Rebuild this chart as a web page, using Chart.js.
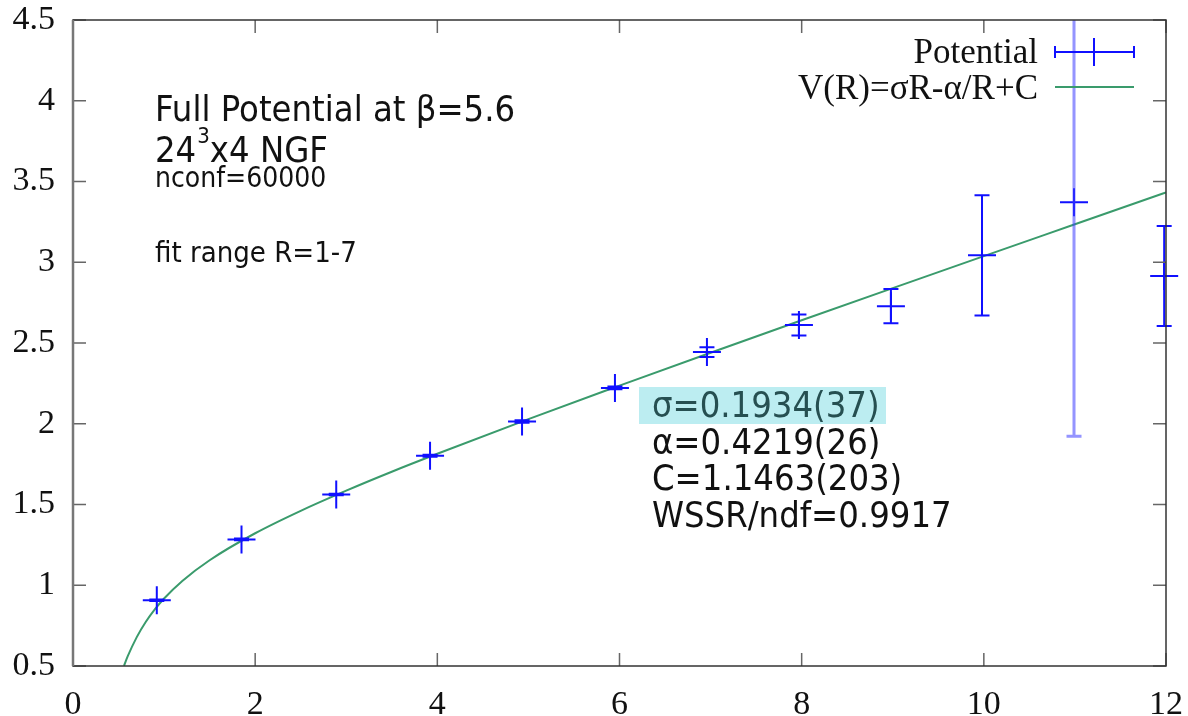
<!DOCTYPE html>
<html>
<head>
<meta charset="utf-8">
<script src="https://cdn.jsdelivr.net/npm/chart.js@4"></script>
<style>
  html, body { margin: 0; padding: 0; background: #fff; }
  canvas { display: block; }
</style>
</head>
<body>
<canvas id="potential-chart" width="1188" height="716"></canvas>
<script>
// Potentiel complet : points avec barres d'erreur + ajustement V(R)

const rValues = [0.92, 1.85, 2.89, 3.92, 4.93, 5.95, 6.96, 7.97, 8.98, 9.98, 10.99, 11.98];
const potential = [0.907, 1.284, 1.562, 1.802, 2.014, 2.222, 2.444, 2.611, 2.728, 3.043, 3.372, 2.915];
const potentialErr = [0.005, 0.005, 0.005, 0.006, 0.008, 0.008, 0.03, 0.065, 0.106, 0.372, 1.45, 0.31];

// courbe d'ajustement
const fitR = [0.56, 0.6, 0.7, 0.8, 0.9, 1.0, 1.2, 1.5, 2, 2.5, 3, 3.5, 4, 5, 6, 7, 8, 9, 10, 11, 12];
const fitV = [0.501, 0.559, 0.679, 0.774, 0.852, 0.918, 1.027, 1.155, 1.322, 1.461, 1.586, 1.703, 1.814,
              2.029, 2.236, 2.440, 2.641, 2.840, 3.038, 3.235, 3.432];

const xTicks = [0, 2, 4, 6, 8, 10, 12];
const yTicks = [0.5, 1, 1.5, 2, 2.5, 3, 3.5, 4, 4.5];

const titleLine = 'Full Potential at β=5.6';
const latticeParts = ['24', '3', 'x4 NGF'];
const nconfLine = 'nconf=60000';
const rangeLine = 'fit range R=1-7';
const fitLines = ['σ=0.1934(37)', 'α=0.4219(26)', 'C=1.1463(203)', 'WSSR/ndf=0.9917'];

const blue = '#1010ff';
const green = '#3a9b6c';
const serif = '"Liberation Serif", "Times New Roman", serif';
const sans = '"DejaVu Sans", Verdana, sans-serif';

function drawText(ctx, text, x, y, size, color, sx) {
    ctx.save();
    ctx.translate(x, y);
    ctx.scale(sx || 1, 1);
    ctx.font = size + 'px ' + sans;
    ctx.fillStyle = color;
    ctx.textBaseline = 'alphabetic';
    ctx.textAlign = 'left';
    ctx.fillText(text, 0, 0);
    const w = ctx.measureText(text).width * (sx || 1);
    ctx.restore();
    return w;
}

const frameAndTicks = {
    id: 'frameAndTicks',
    afterDatasetsDraw(chart) {
        const ctx = chart.ctx;
        const area = chart.chartArea;
        const xs = chart.scales.x;
        const ys = chart.scales.y;

        // barres d'erreur
        ctx.save();
        ctx.beginPath();
        ctx.rect(area.left - 20, area.top, area.right - area.left + 40, area.bottom - area.top);
        ctx.clip();
        for (let i = 0; i < rValues.length; i++) {
            const px = xs.getPixelForValue(rValues[i]);
            const top = ys.getPixelForValue(potential[i] + potentialErr[i]);
            const bot = ys.getPixelForValue(potential[i] - potentialErr[i]);
            ctx.strokeStyle = potentialErr[i] > 1 ? 'rgba(60,60,255,0.55)' : blue;
            ctx.lineWidth = potentialErr[i] > 1 ? 3 : 2;
            ctx.beginPath();
            ctx.moveTo(px, top);
            ctx.lineTo(px, bot);
            ctx.moveTo(px - 7.5, top);
            ctx.lineTo(px + 7.5, top);
            ctx.moveTo(px - 7.5, bot);
            ctx.lineTo(px + 7.5, bot);
            ctx.stroke();
        }
        ctx.restore();

        // graduations vers l'intérieur, sur les quatre côtés
        ctx.save();
        ctx.strokeStyle = '#666';
        ctx.lineWidth = 1.5;
        ctx.beginPath();
        xTicks.forEach(v => {
            const px = xs.getPixelForValue(v);
            ctx.moveTo(px, area.bottom);
            ctx.lineTo(px, area.bottom - 13);
            ctx.moveTo(px, area.top);
            ctx.lineTo(px, area.top + 13);
        });
        yTicks.forEach(v => {
            const py = ys.getPixelForValue(v);
            ctx.moveTo(area.left, py);
            ctx.lineTo(area.left + 13, py);
            ctx.moveTo(area.right, py);
            ctx.lineTo(area.right - 13, py);
        });
        ctx.stroke();

        // cadre
        ctx.strokeStyle = '#333';
        ctx.lineWidth = 1.5;
        ctx.strokeRect(area.left, area.top, area.right - area.left, area.bottom - area.top);
        ctx.strokeStyle = '#777';
        ctx.lineWidth = 2.5;
        ctx.beginPath();
        ctx.moveTo(area.left, area.top);
        ctx.lineTo(area.left, area.bottom);
        ctx.stroke();
        ctx.restore();
    },
    afterDraw(chart) {
        const ctx = chart.ctx;

        // légende façon gnuplot
        const labels = chart.data.datasets.map(d => d.label);
        ctx.save();
        ctx.font = '35px ' + serif;
        ctx.fillStyle = '#111';
        ctx.textAlign = 'right';
        ctx.textBaseline = 'alphabetic';
        ctx.fillText(labels[0], 1038, 63);
        ctx.fillText(labels[1], 1038, 99);

        ctx.strokeStyle = blue;
        ctx.lineWidth = 2;
        ctx.beginPath();
        ctx.moveTo(1055, 52);
        ctx.lineTo(1134, 52);
        ctx.moveTo(1055, 46);
        ctx.lineTo(1055, 58);
        ctx.moveTo(1134, 46);
        ctx.lineTo(1134, 58);
        ctx.moveTo(1094, 38);
        ctx.lineTo(1094, 66);
        ctx.stroke();

        ctx.strokeStyle = green;
        ctx.beginPath();
        ctx.moveTo(1055, 87);
        ctx.lineTo(1134, 87);
        ctx.stroke();
        ctx.restore();

        // annotations
        drawText(ctx, titleLine, 155, 121, 36, '#111', 0.9);
        let x = 155;
        x += drawText(ctx, latticeParts[0], x, 162, 36, '#111', 0.9);
        x += drawText(ctx, latticeParts[1], x + 1, 143, 22, '#111', 0.9) + 1;
        drawText(ctx, latticeParts[2], x, 162, 36, '#111', 0.9);
        drawText(ctx, nconfLine, 155, 187, 28, '#111', 0.9);
        drawText(ctx, rangeLine, 155, 262, 29, '#111', 0.9);

        ctx.save();
        ctx.fillStyle = '#bcedf1';
        ctx.fillRect(639, 387, 247, 37);
        ctx.restore();
        drawText(ctx, fitLines[0], 652, 417, 36, '#264f51', 0.9);
        drawText(ctx, fitLines[1], 652, 454, 36, '#111', 0.9);
        drawText(ctx, fitLines[2], 652, 490, 36, '#111', 0.9);
        drawText(ctx, fitLines[3], 652, 527, 36, '#111', 0.9);
    }
};

document.addEventListener('DOMContentLoaded', function() {
    const canvas = document.getElementById('potential-chart');

    const pointData = rValues.map((r, i) => ({ x: r, y: potential[i] }));
    const fitData = fitR.map((r, i) => ({ x: r, y: fitV[i] }));

    new Chart(canvas, {
        type: 'scatter',
        data: {
            datasets: [
                {
                    label: 'Potential',
                    data: pointData,
                    pointStyle: 'cross',
                    pointRadius: 14,
                    pointHoverRadius: 14,
                    borderColor: blue,
                    backgroundColor: blue,
                    borderWidth: 2,
                    clip: false,
                    order: 0
                },
                {
                    label: 'V(R)=σR-α/R+C',
                    type: 'line',
                    data: fitData,
                    borderColor: green,
                    borderWidth: 2,
                    pointRadius: 0,
                    fill: false,
                    cubicInterpolationMode: 'monotone',
                    order: 1
                }
            ]
        },
        options: {
            responsive: false,
            animation: false,
            layout: { padding: { top: 20, right: 22, left: 0, bottom: 0 } },
            plugins: {
                legend: { display: false },
                tooltip: { enabled: false }
            },
            scales: {
                x: {
                    type: 'linear',
                    min: 0,
                    max: 12,
                    afterFit: function(scale) {
                        scale.height = 50;
                        scale.paddingLeft = 0;
                        scale.paddingRight = 0;
                    },
                    afterBuildTicks: function(scale) { scale.ticks = xTicks.map(v => ({ value: v })); },
                    grid: { display: false, drawTicks: false },
                    border: { display: false },
                    ticks: {
                        color: '#111',
                        font: { family: serif, size: 34 },
                        padding: 19,
                        maxRotation: 0,
                        callback: function(value) { return String(value); }
                    }
                },
                y: {
                    type: 'linear',
                    min: 0.5,
                    max: 4.5,
                    afterFit: function(scale) {
                        scale.width = 73;
                        scale.paddingTop = 0;
                        scale.paddingBottom = 0;
                    },
                    afterBuildTicks: function(scale) { scale.ticks = yTicks.map(v => ({ value: v })); },
                    grid: { display: false, drawTicks: false },
                    border: { display: false },
                    ticks: {
                        color: '#111',
                        font: { family: serif, size: 34 },
                        padding: 18,
                        callback: function(value) { return String(value); }
                    }
                }
            }
        },
        plugins: [frameAndTicks]
    });
});
</script>
</body>
</html>
